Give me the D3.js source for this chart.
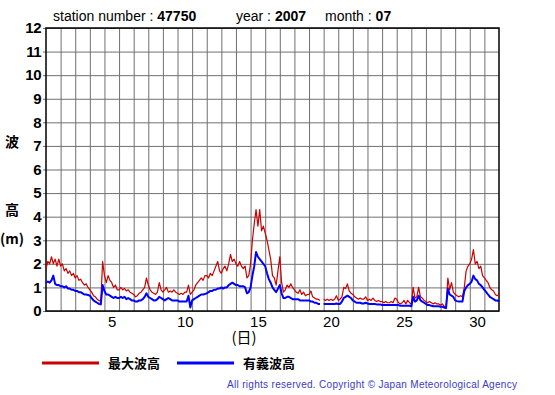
<!DOCTYPE html>
<html>
<head>
<meta charset="utf-8">
<title>station 47750 wave height 2007-07</title>
<script src="https://d3js.org/d3.v7.min.js"></script>
<style>
  body { margin: 0; background: #fff; }
  text { font-family: "Liberation Sans", Arial, sans-serif; }
  .cjk { font-family: "Noto Sans CJK JP", sans-serif; }
</style>
</head>
<body>
<div id="chart"></div>
<script>
// values every 3 hours, July 1 00:00 .. Aug 1 00:00 (m)
var maxWave = [
  1.8, 2.1, 2.0, 2.3, 2.0, 2.2, 1.9, 2.2,
  1.9, 2.0, 1.7, 1.8, 1.6, 1.7, 1.5, 1.6,
  1.4, 1.5, 1.3, 1.35, 1.2, 1.1, 1.15, 1.0,
  0.9, 0.8, 0.65, 0.6, 0.5, 0.45, 0.4, 2.1,
  1.5, 1.2, 1.5, 1.3, 1.2, 1.0, 1.1, 0.9,
  0.9, 1.0, 0.9, 0.95, 0.85, 0.9, 0.8, 0.75,
  0.7, 0.6, 0.65, 0.75, 0.8, 0.9, 1.0, 1.4,
  1.1, 0.9, 0.8, 0.75, 0.7, 0.8, 1.2, 0.9,
  0.8, 0.9, 1.0, 0.8, 0.85, 0.8, 0.9, 0.8,
  0.75, 0.7, 0.75, 0.7, 0.8, 0.8, 1.1, 0.7,
  0.8, 0.9, 1.1, 1.2, 1.3, 1.4, 1.3, 1.5,
  1.5, 1.4, 1.6, 1.5, 1.7, 1.9, 2.1, 1.7,
  1.6, 1.8, 1.9, 1.7, 2.0, 2.4, 2.1, 2.2,
  2.0, 1.9, 2.1, 1.9, 1.8, 1.9, 1.4, 1.5,
  2.0, 3.0, 3.7, 4.3, 3.6, 4.3, 3.4, 3.6,
  3.3, 3.0, 2.6, 2.2, 1.5, 1.4, 1.1, 1.7,
  2.3, 1.2, 0.8, 0.9, 1.1, 1.0, 1.15, 1.0,
  0.9, 0.8, 0.75, 0.9, 0.7, 0.8, 0.65, 0.7,
  0.7, 0.85, 0.6, 0.55, 0.5, 0.5, 0.45, null,
  0.5, 0.45, 0.5, 0.45, 0.5, 0.45, 0.5, 0.65,
  0.45, 0.5, 0.6, 1.0, 0.95, 1.15, 0.85, 0.75,
  0.7, 0.6, 0.55, 0.5, 0.55, 0.5, 0.5, 0.6,
  0.45, 0.5, 0.45, 0.55, 0.45, 0.4, 0.45, 0.4,
  0.4, 0.35, 0.4, 0.35, 0.35, 0.4, 0.35, 0.55,
  0.5, 0.35, 0.3, 0.35, 0.45, 0.3, 0.45, 0.35,
  0.3, 1.0, 0.55, 0.6, 1.0, 0.6, 0.55, 0.45,
  0.4, 0.35, 0.4, 0.35, 0.3, 0.35, 0.3, 0.3,
  0.25, 0.3, 0.2, 0.15, 1.4, 0.9, 1.2, 0.8,
  0.7, 0.65, 0.6, 0.65, 0.6, 1.0, 1.7, 1.9,
  2.0, 2.2, 2.6, 2.0, 2.1, 1.8, 1.9, 1.5,
  1.4, 1.3, 1.2, 1.0, 0.9, 0.85, 0.7, 0.65,
  0.7
];
var sigWave = [
  1.2, 1.25, 1.2, 1.3, 1.5, 1.15, 1.1, 1.1,
  1.05, 1.05, 1.0, 1.05, 0.95, 0.95, 0.9, 0.9,
  0.85, 0.85, 0.8, 0.8, 0.75, 0.7, 0.7, 0.68,
  0.65, 0.55, 0.45, 0.4, 0.35, 0.3, 0.28, 1.1,
  0.85, 0.7, 0.7, 0.65, 0.6, 0.55, 0.6, 0.55,
  0.55, 0.6, 0.55, 0.6, 0.5, 0.55, 0.5, 0.45,
  0.45, 0.4, 0.4, 0.45, 0.45, 0.5, 0.6, 0.75,
  0.6, 0.55, 0.5, 0.45, 0.45, 0.5, 0.6, 0.55,
  0.5, 0.45, 0.5, 0.55, 0.5, 0.45, 0.45, 0.45,
  0.45, 0.4, 0.4, 0.4, 0.4, 0.4, 0.65, 0.15,
  0.45, 0.5, 0.55, 0.6, 0.65, 0.7, 0.7, 0.72,
  0.75, 0.8, 0.85, 0.85, 0.9, 0.9, 0.95, 0.95,
  1.0, 0.95, 1.0, 1.0, 1.1, 1.15, 1.2, 1.15,
  1.1, 1.1, 1.05, 1.05, 1.05, 1.0, 0.75, 0.8,
  1.0, 1.5, 1.9, 2.5, 2.3, 2.2, 2.1, 2.0,
  1.9, 1.6, 1.35, 1.2, 1.0, 0.9, 0.8, 0.95,
  1.1, 0.75, 0.55, 0.55, 0.6, 0.6, 0.55, 0.5,
  0.5, 0.5, 0.5, 0.45, 0.45, 0.45, 0.45, 0.45,
  0.45, 0.4, 0.4, 0.35, 0.35, 0.3, 0.3, null,
  0.3, 0.3, 0.3, 0.3, 0.3, 0.3, 0.3, 0.32,
  0.3, 0.3, 0.4, 0.55, 0.6, 0.65, 0.6, 0.55,
  0.45, 0.4, 0.35, 0.35, 0.35, 0.32, 0.32, 0.35,
  0.32, 0.3, 0.3, 0.3, 0.3, 0.28, 0.28, 0.28,
  0.25, 0.25, 0.25, 0.25, 0.25, 0.25, 0.25, 0.25,
  0.25, 0.25, 0.22, 0.22, 0.22, 0.22, 0.22, 0.22,
  0.2, 0.6, 0.4, 0.45, 0.65, 0.45, 0.4, 0.35,
  0.3, 0.25, 0.25, 0.22, 0.2, 0.2, 0.2, 0.2,
  0.18, 0.18, 0.15, 0.12, 0.95, 0.7, 0.65, 0.6,
  0.45, 0.42, 0.4, 0.4, 0.4, 0.85, 1.0, 1.1,
  1.15, 1.25, 1.5, 1.35, 1.3, 1.15, 1.1, 1.0,
  0.9, 0.8, 0.7, 0.6, 0.55, 0.5, 0.45, 0.45,
  0.4
];
var stepHours = 3;
var dayLabels = [5, 10, 15, 20, 25, 30];
var yTicks = [0, 1, 2, 3, 4, 5, 6, 7, 8, 9, 10, 11, 12];
var legendNames = ["最大波高", "有義波高"];

var W = 555, H = 395;
var plotL = 46, plotR = 499, plotT = 28, plotB = 311;

var svg = d3.select("#chart").append("svg")
  .attr("width", W).attr("height", H);

var x = d3.scaleLinear().domain([0, 31]).range([plotL, plotR]);
var y = d3.scaleLinear().domain([0, 12]).range([plotB, plotT]);

// grid
svg.append("g")
  .attr("transform", "translate(0," + plotB + ")")
  .call(d3.axisBottom(x).tickValues(d3.range(1, 31)).tickSize(-(plotB - plotT)).tickFormat(""))
  .call(g => g.select(".domain").remove())
  .call(g => g.selectAll("line").attr("stroke", "#707070"));

svg.append("g")
  .attr("transform", "translate(" + plotL + ",0)")
  .call(d3.axisLeft(y).tickValues(yTicks).tickSize(-(plotR - plotL)).tickPadding(5))
  .call(g => g.select(".domain").remove())
  .call(g => g.selectAll("line").attr("stroke", "#707070").attr("x1", -3))
  .call(g => g.selectAll("text")
    .attr("x", -5)
    .attr("font-family", "Liberation Sans, Arial, sans-serif")
    .attr("font-weight", "bold").attr("font-size", 15)
    .attr("letter-spacing", -0.5)
    .attr("fill", "#000"));

// day labels
svg.append("g")
  .attr("transform", "translate(0," + plotB + ")")
  .call(d3.axisBottom(x).tickValues(dayLabels.map(d => d - 0.5)).tickSize(0).tickPadding(5)
    .tickFormat(d => d + 0.5))
  .call(g => g.select(".domain").remove())
  .call(g => g.selectAll("text")
    .attr("font-family", "Liberation Sans, Arial, sans-serif")
    .attr("font-size", 15).attr("fill", "#000"));

// frame
svg.append("rect")
  .attr("x", plotL).attr("y", plotT)
  .attr("width", plotR - plotL).attr("height", plotB - plotT)
  .attr("fill", "none").attr("stroke", "#000").attr("stroke-width", 1.5);

function line() {
  return d3.line()
    .defined(v => v != null)
    .x((v, i) => x(i * stepHours / 24))
    .y(v => y(v));
}

svg.append("path").datum(maxWave)
  .attr("d", line())
  .attr("fill", "none").attr("stroke", "#cc0000").attr("stroke-width", 1.2)
  .attr("stroke-linejoin", "round");

svg.append("path").datum(sigWave)
  .attr("d", line())
  .attr("fill", "none").attr("stroke", "#0000ff").attr("stroke-width", 2)
  .attr("stroke-linejoin", "round");

// header
var hdr = svg.append("text").attr("y", 21).attr("font-size", 14).attr("fill", "#000");
hdr.append("tspan").attr("x", 53).text("station number : ");
hdr.append("tspan").attr("font-weight", "bold").text("47750");
var hdr2 = svg.append("text").attr("y", 21).attr("font-size", 14).attr("fill", "#000");
hdr2.append("tspan").attr("x", 236).text("year : ");
hdr2.append("tspan").attr("font-weight", "bold").text("2007");
hdr2.append("tspan").attr("x", 325).text("month : ");
hdr2.append("tspan").attr("font-weight", "bold").text("07");

// y title
svg.append("text").attr("class", "cjk").attr("x", 12).attr("y", 147)
  .attr("text-anchor", "middle").attr("font-size", 14).attr("font-weight", "bold").text("波");
svg.append("text").attr("class", "cjk").attr("x", 12).attr("y", 215)
  .attr("text-anchor", "middle").attr("font-size", 14).attr("font-weight", "bold").text("高");
svg.append("text").attr("class", "cjk").attr("x", 12).attr("y", 244)
  .attr("text-anchor", "middle").attr("font-size", 14).attr("font-weight", "bold").text("(m)");

// x title
svg.append("text").attr("class", "cjk").attr("x", 244).attr("y", 343)
  .attr("text-anchor", "middle").attr("font-size", 15).text("(日)");

// legend
var legColors = ["#cc0000", "#0000ff"];
var legX = [42, 177];
legendNames.forEach(function (name, i) {
  svg.append("line")
    .attr("x1", legX[i]).attr("x2", legX[i] + 57)
    .attr("y1", 363).attr("y2", 363)
    .attr("stroke", legColors[i]).attr("stroke-width", 3);
  svg.append("text").attr("class", "cjk")
    .attr("x", legX[i] + 66).attr("y", 368)
    .attr("font-size", 13).attr("font-weight", "bold").attr("fill", "#000")
    .text(name);
});

svg.append("text")
  .attr("x", 227).attr("y", 388)
  .attr("font-size", 10).attr("fill", "#3a3ac8")
  .attr("textLength", 290).attr("lengthAdjust", "spacing")
  .text("All rights reserved. Copyright \u00a9 Japan Meteorological Agency");
</script>
</body>
</html>
